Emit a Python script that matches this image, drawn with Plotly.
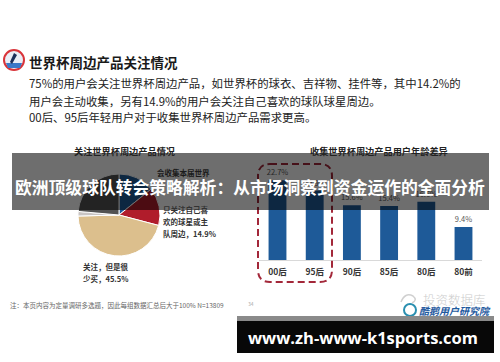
import plotly.graph_objects as go

W, H = 500, 362
def X(px): return px / W
def Y(py): return 1 - py / H

CJK = "Noto Sans CJK SC"

# ---- data ----
pie_labels = ["会收集本届世界杯周边", "只关注自己喜欢的球星或主队周边", "关注，但是很少买", "其他", "不关注"]
pie_values = [14.2, 14.9, 45.5, 1.8, 23.6]
pie_colors = ["#1e5a98", "#b01c2b", "#dcbf8d", "#c9c5c4", "#525252"]

age_groups = ["00后", "95后", "90后", "85后", "80后", "80前"]
age_values = [22.7, 19.8, 15.6, 15.4, 16.6, 9.4]
bar_color = "#1e5a98"

title_text = "世界杯周边产品关注情况"
body_lines = [
    "75%的用户会关注世界杯周边产品，如世界杯的球衣、吉祥物、挂件等，其中14.2%的",
    "用户会主动收集，另有14.9%的用户会关注自己喜欢的球队球星周边。",
    "00后、95后年轻用户对于收集世界杯周边产品需求更高。",
]
banner_text = "欧洲顶级球队转会策略解析：从市场洞察到资金运作的全面分析"
pie_title = "关注世界杯周边产品情况"
bar_title = "收集世界杯周边产品用户年龄差异"
footnote = "注：本页内容为定量调研多选题，因此每组数据汇总后大于100% N=13809"
site_text = "www.zh-www-k1sports.com"

fig = go.Figure()

# pie: centre (119,215), radius 41
cx, cy, r = 119, 215, 41
fig.add_trace(go.Pie(
    labels=pie_labels, values=pie_values, sort=False, direction="clockwise", rotation=0,
    marker=dict(colors=pie_colors, line=dict(color="white", width=1)),
    textinfo="none", textposition="none", hoverinfo="none", showlegend=False,
    domain=dict(x=[X(cx - r), X(cx + r)], y=[Y(cy + r), Y(cy - r)]),
))

# bars
fig.add_trace(go.Bar(
    x=age_groups, y=age_values, marker=dict(color=bar_color, line=dict(width=0)),
    text=[f"{v}%" for v in age_values], textposition="outside", cliponaxis=False,
    constraintext="none",
    textfont=dict(family=CJK, size=7.5, color="#595959"), hoverinfo="none",
    xaxis="x", yaxis="y",
))

base_y = 260
px_per = 3.51
ymax = 25

annotations = []
def txt(x, y, s, size, color="#222", anchor="left", weight="normal", family=CJK):
    if anchor == "left":
        x = x - 2
    annotations.append(dict(x=X(x), y=Y(y), xref="paper", yref="paper", text=s, showarrow=False,
                            xanchor=anchor, yanchor="middle", align=anchor,
                            font=dict(family=family, size=size, color=color, weight=weight)))

txt(29, 62, title_text, 13.5, "#1a1a1a", weight="bold")
for yy, line in zip([83, 101, 117], body_lines):
    txt(29, yy, line, 11.4, "#222")

txt(124, 151, pie_title, 9.2, "#222", anchor="center", weight="bold")
txt(379, 151, bar_title, 9.2, "#222", anchor="center", weight="bold")

# pie labels
txt(157, 172, "会收集本届世界", 7.5, "#1a1a1a", weight="bold")
for yy, s in zip([209, 221, 233], ["只关注自己喜", "欢的球星或主", "队周边，14.9%"]):
    txt(163, yy, s, 7.5, "#333", weight="bold")
for yy, s in zip([266, 278], ["关注，但是很", "少买，45.5%"]):
    txt(83, yy, s, 7.5, "#333", weight="bold")

txt(10, 305, footnote, 6.5, "#666")
txt(248, 303, "34", 5, "#aaa")
txt(454, 299, "投资数据库", 12.5, "#cccccc", anchor="center", weight=300)
txt(419, 310, "<i>酷鹅用户研究院</i>", 10, "#1f5a9e", weight="bold")

# banner text (last so it's on top)
txt(250, 187, banner_text, 16.8, "white", anchor="center", weight="bold")
txt(362.5, 337, site_text, 16.5, "white", anchor="center", weight="bold", family="Open Sans")

shapes = []
# icon
shapes.append(dict(type="circle", xref="paper", yref="paper", x0=X(4), x1=X(24), y0=Y(70), y1=Y(50),
                   fillcolor="#e9eef7", line=dict(color="#d9343a", width=2)))
shapes.append(dict(type="path", xref="paper", yref="paper",
                   path=f"M {X(6)},{Y(63)} L {X(22)},{Y(63)} L {X(20)},{Y(68)} L {X(8)},{Y(68)} Z",
                   fillcolor="#3a78c8", line=dict(width=0)))
shapes.append(dict(type="path", xref="paper", yref="paper",
                   path=f"M {X(14)},{Y(53)} L {X(17)},{Y(55)} L {X(12)},{Y(64)} L {X(10)},{Y(62)} Z",
                   fillcolor="#1b2f5a", line=dict(width=0)))

# dashed rounded rectangle
x0, x1, y0, y1, rr = 258, 332, 164, 282, 12
p = (f"M {X(x0+rr)},{Y(y0)} L {X(x1-rr)},{Y(y0)} Q {X(x1)},{Y(y0)} {X(x1)},{Y(y0+rr)} "
     f"L {X(x1)},{Y(y1-rr)} Q {X(x1)},{Y(y1)} {X(x1-rr)},{Y(y1)} "
     f"L {X(x0+rr)},{Y(y1)} Q {X(x0)},{Y(y1)} {X(x0)},{Y(y1-rr)} "
     f"L {X(x0)},{Y(y0+rr)} Q {X(x0)},{Y(y0)} {X(x0+rr)},{Y(y0)} Z")
shapes.append(dict(type="path", xref="paper", yref="paper", path=p,
                   line=dict(color="#a3283a", width=2, dash="7px,4px")))

# watermark logo circle
shapes.append(dict(type="circle", xref="paper", yref="paper", x0=X(404), x1=X(416), y0=Y(316), y1=Y(304),
                   line=dict(color="#2a8fb0", width=2)))
shapes.append(dict(type="path", xref="paper", yref="paper",
                   path=f"M {X(401)},{Y(302)} Q {X(405)},{Y(292)} {X(413)},{Y(296)} Q {X(418)},{Y(300)} {X(412)},{Y(303)}",
                   line=dict(color="#d0d0d0", width=1.5)))

# banner overlay
shapes.append(dict(type="rect", xref="paper", yref="paper", x0=X(12), x1=X(489), y0=Y(210), y1=Y(153),
                   fillcolor="rgba(0,0,0,0.57)", line=dict(width=0), layer="above"))
# site box
shapes.append(dict(type="rect", xref="paper", yref="paper", x0=X(237), x1=X(494), y0=Y(321), y1=Y(316),
                   fillcolor="#8a8a8a", line=dict(width=0), layer="above"))
shapes.append(dict(type="rect", xref="paper", yref="paper", x0=X(237), x1=X(494), y0=Y(353), y1=Y(321),
                   fillcolor="#080808", line=dict(width=0), layer="above"))

fig.update_layout(
    width=W, height=H, margin=dict(l=0, r=0, t=0, b=0),
    paper_bgcolor="white", plot_bgcolor="white", showlegend=False,
    bargap=0.52,
    xaxis=dict(domain=[X(258.9), X(482.1)], showline=True, linecolor="#d9d9d9", linewidth=1,
               ticks="", showgrid=False, zeroline=False, fixedrange=True,
               tickfont=dict(family=CJK, size=8.5, color="#333", weight="bold"),
               ticklabelstandoff=4),
    yaxis=dict(domain=[Y(base_y), Y(base_y - ymax * px_per)], range=[0, ymax], visible=False,
               showgrid=False, zeroline=False, fixedrange=True),
    annotations=annotations, shapes=shapes,
)

fig.write_html("out.html", config={"displayModeBar": False},
               post_script="document.body.style.margin='0';document.body.style.padding='0';")
